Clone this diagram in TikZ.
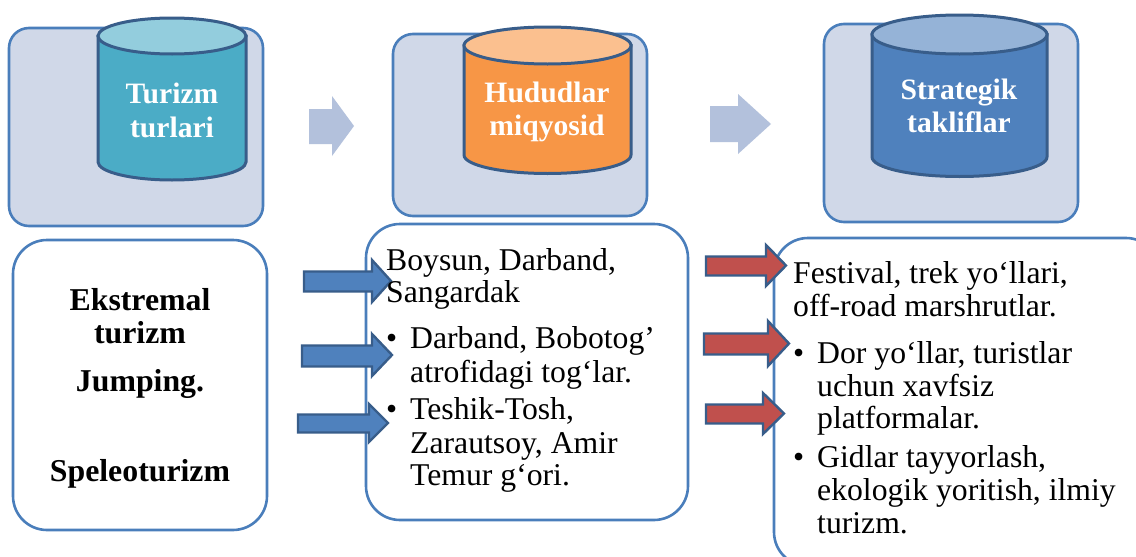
\documentclass[tikz,border=0pt]{standalone}
\usepackage{fontspec}
\setmainfont{Liberation Serif}
\definecolor{panelfill}{HTML}{D0D8E8}
\definecolor{panelline}{HTML}{4A7EBB}
\definecolor{drumline}{HTML}{385D8A}
\definecolor{tealside}{HTML}{4BACC6}
\definecolor{tealtop}{HTML}{93CDDD}
\definecolor{orangeside}{HTML}{F79646}
\definecolor{orangetop}{HTML}{FBC08F}
\definecolor{blueside}{HTML}{4F81BD}
\definecolor{bluetop}{HTML}{95B3D7}
\definecolor{paleflow}{HTML}{B3C1DC}
\definecolor{redflow}{HTML}{C0504D}
\tikzset{
  panel/.style={draw=panelline,line width=2.6pt,fill=panelfill,rounded corners=20pt},
  card/.style={draw=panelline,line width=2.6pt,fill=white,rounded corners=34pt},
  drumshape/.style={draw=drumline,line width=3pt},
  flowpale/.style={fill=paleflow},
  flowblue/.style={draw=drumline,line width=2.4pt,fill=blueside},
  flowred/.style={draw=drumline,line width=2.4pt,fill=redflow},
  bodytext/.style={inner sep=0pt,anchor=base west,align=left,font=\fontsize{31.7}{33.5}\selectfont},
  headtext/.style={inner sep=0pt,anchor=base,align=center,font=\fontsize{31.8}{33.5}\selectfont\bfseries},
  drumtext/.style={inner sep=0pt,anchor=base,align=center,text=white,font=\fontsize{29.6}{33.5}\selectfont\bfseries}
}
% left x, right x, top-ellipse centre y, bottom-ellipse centre y, y radius, side colour, top colour
\newcommand{\drumfig}[7]{%
  \path[drumshape,fill=#6] (#1,#3) -- (#1,#4)
    arc[start angle=180,end angle=360,x radius={(#2-#1)/2*1pt},y radius=#5pt] -- (#2,#3) -- cycle;
  \path[drumshape,fill=#7] ({(#1+#2)/2},#3) ellipse [x radius={(#2-#1)/2*1pt},y radius=#5pt];
}
% style, tail x, neck x, tip x, body top, body bottom, head top, head bottom
\newcommand{\blockflow}[8]{%
  \path[#1] (#2,#5) -- (#3,#5) -- (#3,#7) -- (#4,{(#7+#8)/2}) -- (#3,#8) -- (#3,#6) -- (#2,#6) -- cycle;
}
\begin{document}
\begin{tikzpicture}[x=1pt,y=-1pt]
\path[use as bounding box,clip] (0,0) rectangle (1136,557);
\fill[white] (0,0) rectangle (1136,557);
% top panels
\path[panel] (9,28) rectangle (263,226);
\path[panel] (393,34) rectangle (647,216);
\path[panel] (824,24) rectangle (1078,222);
% drums
\drumfig{98}{246}{36}{162}{18}{tealside}{tealtop}
\drumfig{464}{631}{45.5}{155}{18.5}{orangeside}{orangetop}
\drumfig{872}{1047}{34.5}{157}{19.5}{blueside}{bluetop}
\node[drumtext] (d1a) at (172,103) {Turizm};
\node[drumtext] (d1b) at (172,137) {turlari};
\node[drumtext] (d2a) at (547,102.5) {Hududlar};
\node[drumtext] (d2b) at (547,135.5) {miqyosid};
\node[drumtext] (d3a) at (959,99.5) {Strategik};
\node[drumtext] (d3b) at (959,132.5) {takliflar};
% pale arrows
\blockflow{flowpale}{309}{332}{354}{109}{144}{96}{156}
\blockflow{flowpale}{710}{738}{771}{106}{142}{94}{154}
% bottom cards
\path[card] (13,240) rectangle (267,530);
\path[card] (366,224) rectangle (688,520);
\path[card] (774,238) rectangle (1160,566);
% blue arrows
\blockflow{flowblue}{304}{372}{391}{271.5}{291.5}{260}{302}
\blockflow{flowblue}{302}{372}{392}{345.5}{366.5}{334}{376}
\blockflow{flowblue}{298}{369}{388}{414.5}{432.5}{404}{442}
% red arrows
\blockflow{flowred}{706}{766}{786}{256.5}{275.5}{245}{286}
\blockflow{flowred}{704}{768}{789}{333.5}{354.5}{321}{366}
\blockflow{flowred}{706}{763}{784}{404.5}{423.5}{393}{434}
% left card text
\node[headtext] (h1) at (140,310) {Ekstremal};
\node[headtext] (h2) at (140,343.5) {turizm};
\node[headtext] (h3) at (140,391.5) {Jumping.};
\node[headtext] (h4) at (140,481) {Speleoturizm};
% middle card text
\node[bodytext] (m1a) at (386,270) {Boysun, Darband,};
\node[bodytext] (m1b) at (386,302) {Sangardak};
\node[bodytext] (m2b) at (386,348) {•};
\node[bodytext] (m2a) at (410,348) {Darband, Bobotog’};
\node[bodytext] (m2c) at (410,382) {atrofidagi tog‘lar.};
\node[bodytext] (m3b) at (386,419) {•};
\node[bodytext] (m3a) at (410,419) {Teshik-Tosh,};
\node[bodytext] (m3c) at (410,453) {Zarautsoy, Amir};
\node[bodytext] (m3d) at (410,485) {Temur g‘ori.};
% right card text
\node[bodytext] (r1a) at (793,283) {Festival, trek yo‘llari,};
\node[bodytext] (r1b) at (793,316) {off-road marshrutlar.};
\node[bodytext] (r2b) at (793,363) {•};
\node[bodytext] (r2a) at (817,363) {Dor yo‘llar, turistlar};
\node[bodytext] (r2c) at (817,396) {uchun xavfsiz};
\node[bodytext] (r2d) at (817,428) {platformalar.};
\node[bodytext] (r3b) at (793,467) {•};
\node[bodytext] (r3a) at (817,467) {Gidlar tayyorlash,};
\node[bodytext] (r3c) at (817,500) {ekologik yoritish, ilmiy};
\node[bodytext] (r3d) at (817,533) {turizm.};
\end{tikzpicture}
\end{document}
